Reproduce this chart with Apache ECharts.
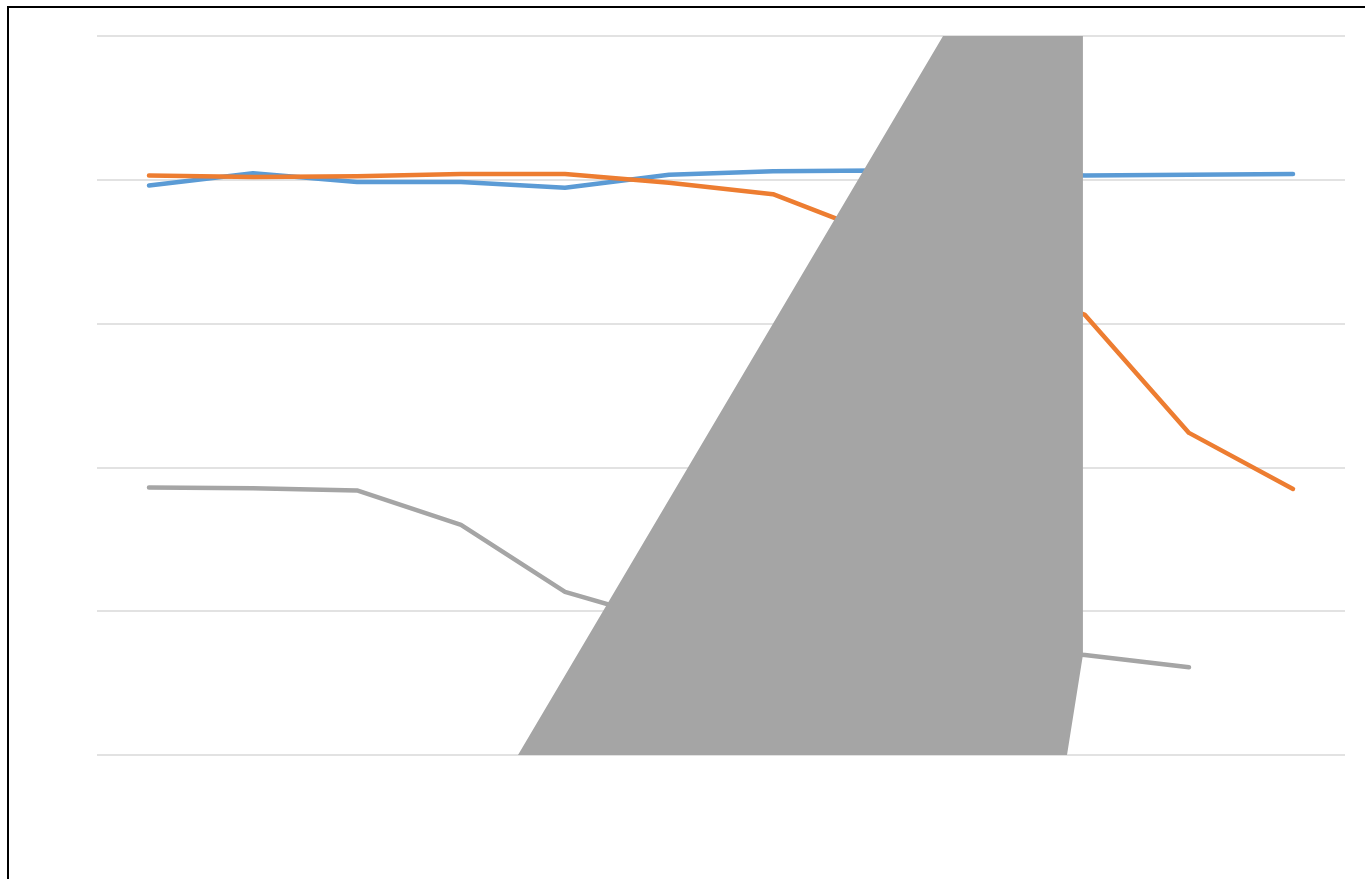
<!DOCTYPE html>
<html>
<head>
<meta charset="utf-8">
<script src="https://cdn.jsdelivr.net/npm/echarts@6/dist/echarts.min.js"></script>
<style>
	html, body { margin: 0; padding: 0; background: #fff; }
	#chart { position: absolute; left: 0; top: 0; width: 1365px; height: 879px; }
	#frame { position: absolute; left: 7px; top: 6px; width: 1400px; height: 900px;
		border-left: 2px solid #000; border-top: 2px solid #000; pointer-events: none; }
</style>
</head>
<body>
<div id="chart"></div>
<div id="frame"></div>
<script>
var categories = [ '1', '2', '3', '4', '5', '6', '7', '8', '9', '10', '11', '12' ];
var blueValues = [ 79.2, 80.9, 79.7, 79.7, 78.9, 80.7, 81.2, 81.3, 81.0, 80.6, 80.7, 80.8 ];
var orangeValues = [ 80.6, 80.4, 80.5, 80.8, 80.8, 79.6, 78.0, 72.4, 66.8, 61.2, 44.8, 37.0 ];
var grayValues = [ 37.2, 37.1, 36.8, 32.0, 22.7, 18.5, 16.5, 15.5, 14.8, 13.9, 12.2 ];
// outline of the big grey shape, x in category index units
var shapeX = [ 3.548, 7.635, 8.98, 8.98, 8.827 ];
var shapeY = [ 0, 100, 100, 13.9, 0 ];
var yTicks = [ 0, 20, 40, 60, 80, 100 ];

var shapeData = [];
for (var i = 0; i < shapeX.length; i++) {
	shapeData.push([ shapeX[i], shapeY[i] ]);
}

function lineSeries(name, data, color) {
	return {
		name : name,
		type : 'line',
		data : data,
		symbol : 'none',
		z : 3,
		lineStyle : {
			color : color,
			width : 4.5,
			cap : 'round',
			join : 'round'
		}
	};
}

var chart = echarts.init(document.getElementById('chart'));
var option = {
	animation : false,
	grid : {
		left : 97,
		right : 20,
		top : 36,
		bottom : 124
	},
	xAxis : [ {
		type : 'category',
		data : categories,
		boundaryGap : true,
		axisLine : { show : false },
		axisTick : { show : false },
		axisLabel : { show : false }
	}, {
		type : 'value',
		min : -0.5,
		max : 11.5,
		show : false
	} ],
	yAxis : {
		type : 'value',
		min : yTicks[0],
		max : yTicks[yTicks.length - 1],
		interval : 20,
		axisLine : { show : false },
		axisTick : { show : false },
		axisLabel : { show : false },
		splitLine : {
			lineStyle : { color : '#D9D9D9', width : 1.5 }
		}
	},
	series : [
		lineSeries('Series1', blueValues, '#5B9BD5'),
		lineSeries('Series2', orangeValues, '#ED7D31'),
		lineSeries('Series3', grayValues, '#A5A5A5'),
		{
			name : 'shape',
			type : 'line',
			xAxisIndex : 1,
			data : shapeData,
			symbol : 'none',
			z : 5,
			lineStyle : { width : 0, color : '#A5A5A5' },
			areaStyle : { color : '#A5A5A5', opacity : 1 }
		}
	]
};
chart.setOption(option);
</script>
</body>
</html>
